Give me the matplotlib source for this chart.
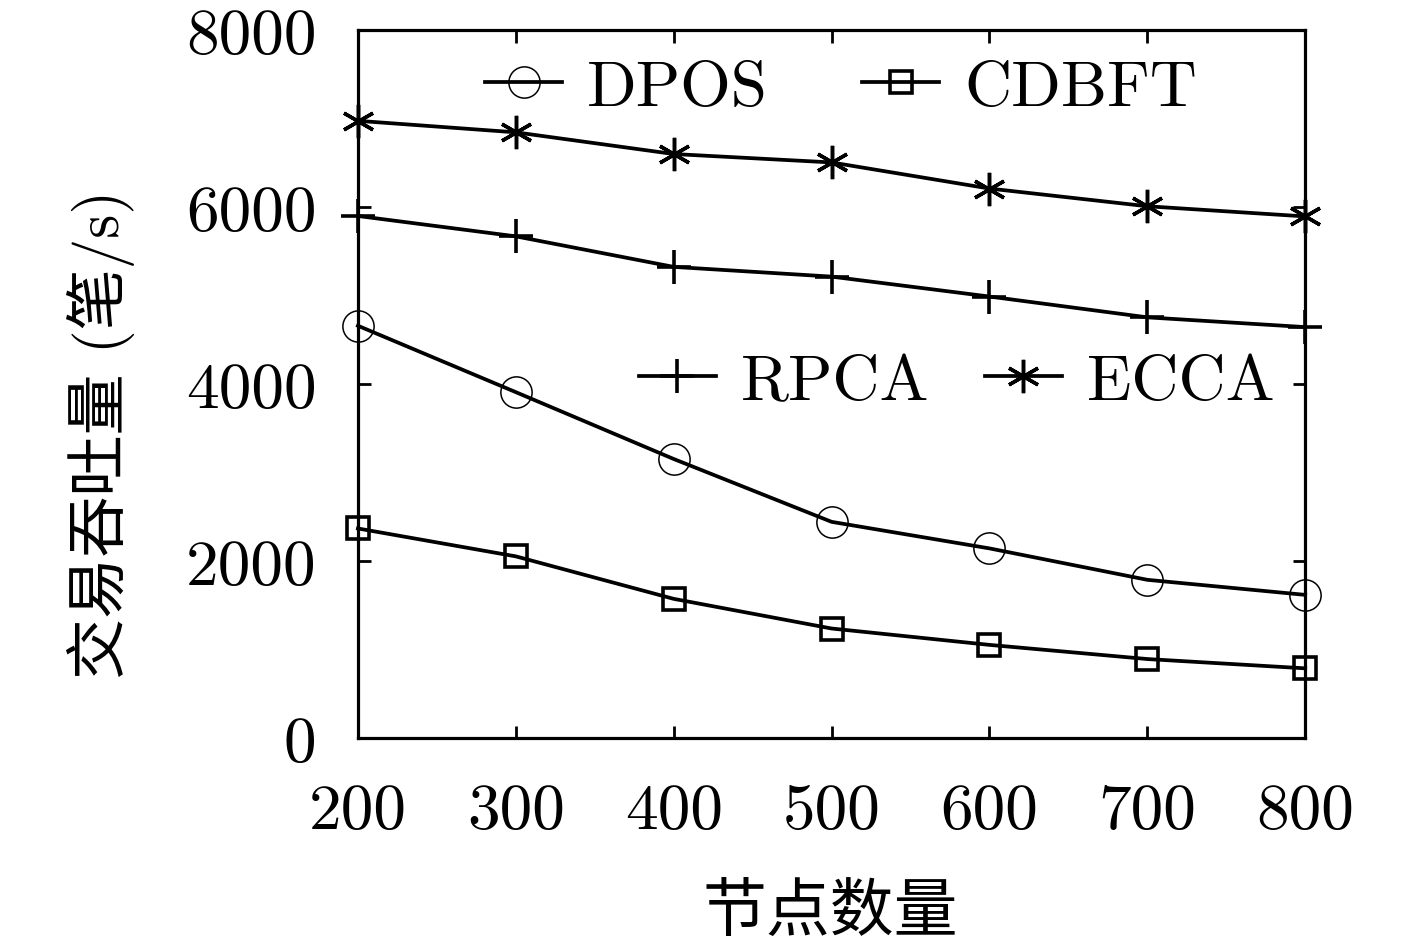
import matplotlib
matplotlib.use("Agg")
import matplotlib.pyplot as plt

nodes = [200, 300, 400, 500, 600, 700, 800]
dpos = [4660, 3910, 3155, 2445, 2145, 1790, 1620]
cdbft = [2370, 2055, 1575, 1240, 1055, 895, 790]
rpca = [5900, 5670, 5325, 5215, 4990, 4755, 4645]
ecca = [6975, 6845, 6600, 6505, 6210, 6010, 5895]
xticks = [200, 300, 400, 500, 600, 700, 800]
yticks = [0, 2000, 4000, 6000, 8000]
xlabel = "节点数量"
ylabel = "交易吞吐量 (笔/s)"

plt.rcParams['font.family'] = ['cmr10', 'Noto Sans CJK SC', 'DejaVu Sans']
plt.rcParams['axes.formatter.use_mathtext'] = True

fig = plt.figure(figsize=(14.17, 9.45), dpi=100)
ax = fig.add_axes([0.2526, 0.2177, 0.6685, 0.7494])

lw = 2.7
l1, = ax.plot(nodes, dpos, color='black', lw=lw, marker='o', ms=22.5, mfc='none', mew=1.1, label='DPOS', clip_on=False)
l2, = ax.plot(nodes, cdbft, color='black', lw=lw, marker='s', ms=16.5, mfc='none', mew=2.6, label='CDBFT', clip_on=False)
l3, = ax.plot(nodes, rpca, color='black', lw=lw, marker='+', ms=24, mew=2.6, label='RPCA', clip_on=False)
l4, = ax.plot(nodes, ecca, color='black', lw=lw, marker=(6, 2, 0), ms=24, mew=2.5, label='ECCA', clip_on=False)

ax.set_xlim(200, 800)
ax.set_ylim(0, 8000)
ax.set_xticks(xticks)
ax.set_xticklabels([str(v) for v in xticks])
ax.set_yticks(yticks)
ax.set_yticklabels([str(v) for v in yticks])
ax.tick_params(direction='in', length=9, width=2.0, top=True, right=True, labelsize=47)
ax.tick_params(axis='x', pad=32)
ax.tick_params(axis='y', pad=30)
for s in ax.spines.values():
    s.set_linewidth(2.3)

ax.set_xlabel(xlabel, fontsize=46, va='center')
ax.xaxis.set_label_coords(0.499, -0.247)
ax.set_ylabel(ylabel, fontsize=44, va='center')
ax.yaxis.set_label_coords(-0.271, 0.43)

leg1 = ax.legend(handles=[l1, l2], loc='center', bbox_to_anchor=(0.51, 0.917), ncol=2, frameon=False,
                 fontsize=47, handlelength=1.18, handletextpad=0.38, columnspacing=1.45,
                 borderpad=0, borderaxespad=0)
ax.add_artist(leg1)
leg2 = ax.legend(handles=[l3, l4], loc='center', bbox_to_anchor=(0.632, 0.502), ncol=2, frameon=False,
                 fontsize=47, handlelength=1.18, handletextpad=0.38, columnspacing=0.85,
                 borderpad=0, borderaxespad=0)

fig.savefig("out.png", dpi=100)
